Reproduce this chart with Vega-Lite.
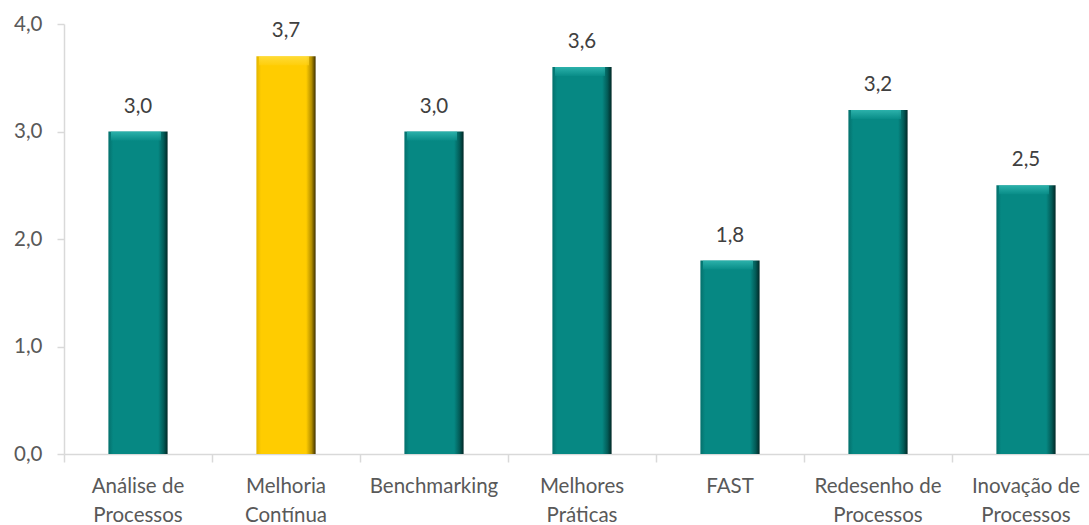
{
  "$schema": "https://vega.github.io/schema/vega-lite/v6.json",
  "autosize": {"type": "none"},
  "width": 1036,
  "height": 430,
  "padding": {"left": 64, "top": 24, "right": 0, "bottom": 71},
  "background": "white",
  "config": {
    "locale": {"number": {"decimal": ",", "thousands": ".", "grouping": [3], "currency": ["", " €"]}},
    "view": {"stroke": null},
    "font": "Lato"
  },
  "data": {
    "values": [
      {"tecnica": "Análise de Processos", "media": 3.0, "destaque": "nao"},
      {"tecnica": "Melhoria Contínua", "media": 3.7, "destaque": "sim"},
      {"tecnica": "Benchmarking", "media": 3.0, "destaque": "nao"},
      {"tecnica": "Melhores Práticas", "media": 3.6, "destaque": "nao"},
      {"tecnica": "FAST", "media": 1.8, "destaque": "nao"},
      {"tecnica": "Redesenho de Processos", "media": 3.2, "destaque": "nao"},
      {"tecnica": "Inovação de Processos", "media": 2.5, "destaque": "nao"}
    ]
  },
  "resolve": {"axis": {"x": "independent"}},
  "encoding": {
    "y": {
      "field": "media", "type": "quantitative", "title": null,
      "scale": {"domain": [0, 4], "nice": false},
      "axis": {
        "values": [0, 1, 2, 3, 4], "format": ".1f", "grid": false, "domainColor": "#d9d9d9", "domainWidth": 1.5,
        "tickColor": "#d9d9d9", "tickWidth": 1.5, "tickSize": 7, "labelColor": "#595959", "labelFontSize": 20.5,
        "labelPadding": 15, "labelFont": "Lato"
      }
    }
  },
  "layer": [
    {
      "transform": [{"filter": "datum.destaque == 'nao'"}],
      "mark": {"type": "bar", "width": {"band": 0.4},
        "color": {"gradient": "linear", "x1": 0, "x2": 1, "y1": 0, "y2": 0,
          "stops": [
            {"offset": 0, "color": "#04706c"},
            {"offset": 0.08, "color": "#068883"},
            {"offset": 0.84, "color": "#068883"},
            {"offset": 0.93, "color": "#035c58"},
            {"offset": 1, "color": "#012826"}
          ]}},
      "encoding": {
        "x": {
          "field": "tecnica", "type": "nominal", "title": null,
          "sort": ["Análise de Processos", "Melhoria Contínua", "Benchmarking", "Melhores Práticas", "FAST", "Redesenho de Processos", "Inovação de Processos"],
          "scale": {"paddingInner": 0, "paddingOuter": 0},
          "axis": {
            "orient": "bottom", "labelAngle": 0, "domainColor": "#d9d9d9", "domainWidth": 1.5, "ticks": false,
            "labelColor": "#595959", "labelFontSize": 20.5, "labelPadding": 22, "labelLineHeight": 29, "labelFont": "Lato",
            "labelExpr": "(datum.value == 'Benchmarking' || datum.value == 'FAST') ? datum.value : [substring(datum.value, 0, lastindexof(datum.value, ' ')), substring(datum.value, lastindexof(datum.value, ' ') + 1)]"
          }
        }
      }
    },
    {
      "transform": [{"filter": "datum.destaque == 'sim'"}],
      "mark": {"type": "bar", "width": {"band": 0.4},
        "color": {"gradient": "linear", "x1": 0, "x2": 1, "y1": 0, "y2": 0,
          "stops": [
            {"offset": 0, "color": "#e3b500"},
            {"offset": 0.08, "color": "#ffcc00"},
            {"offset": 0.84, "color": "#ffcc00"},
            {"offset": 0.93, "color": "#b48f00"},
            {"offset": 1, "color": "#3d3000"}
          ]}},
      "encoding": {
        "x": {
          "field": "tecnica", "type": "nominal", "title": null,
          "sort": ["Análise de Processos", "Melhoria Contínua", "Benchmarking", "Melhores Práticas", "FAST", "Redesenho de Processos", "Inovação de Processos"],
          "axis": {
            "orient": "bottom", "labels": false, "domain": false, "tickColor": "#d9d9d9", "tickWidth": 1.5,
            "tickSize": 8, "tickOffset": -74
          }
        }
      }
    },
    {
      "transform": [{"filter": "datum.destaque == 'nao'"}],
      "mark": {"type": "tick", "thickness": 9, "size": 50, "yOffset": 4.5, "xOffset": -2,
        "color": {"gradient": "linear", "x1": 0, "x2": 0, "y1": 0, "y2": 1,
          "stops": [
            {"offset": 0, "color": "#3cc3bc"},
            {"offset": 1, "color": "#0a8f8a"}
          ]}},
      "encoding": {
        "x": {"field": "tecnica", "type": "nominal", "sort": ["Análise de Processos", "Melhoria Contínua", "Benchmarking", "Melhores Práticas", "FAST", "Redesenho de Processos", "Inovação de Processos"], "axis": null}
      }
    },
    {
      "transform": [{"filter": "datum.destaque == 'sim'"}],
      "mark": {"type": "tick", "thickness": 9, "size": 50, "yOffset": 4.5, "xOffset": -2,
        "color": {"gradient": "linear", "x1": 0, "x2": 0, "y1": 0, "y2": 1,
          "stops": [
            {"offset": 0, "color": "#ffe24d"},
            {"offset": 1, "color": "#ffcf10"}
          ]}},
      "encoding": {
        "x": {"field": "tecnica", "type": "nominal", "sort": ["Análise de Processos", "Melhoria Contínua", "Benchmarking", "Melhores Práticas", "FAST", "Redesenho de Processos", "Inovação de Processos"], "axis": null}
      }
    },
    {
      "mark": {"type": "text", "dy": -25, "fontSize": 20.5, "color": "#404040", "font": "Lato"},
      "encoding": {
        "x": {"field": "tecnica", "type": "nominal", "sort": ["Análise de Processos", "Melhoria Contínua", "Benchmarking", "Melhores Práticas", "FAST", "Redesenho de Processos", "Inovação de Processos"], "axis": null},
        "text": {"field": "media", "type": "quantitative", "format": ".1f"}
      }
    }
  ]
}
